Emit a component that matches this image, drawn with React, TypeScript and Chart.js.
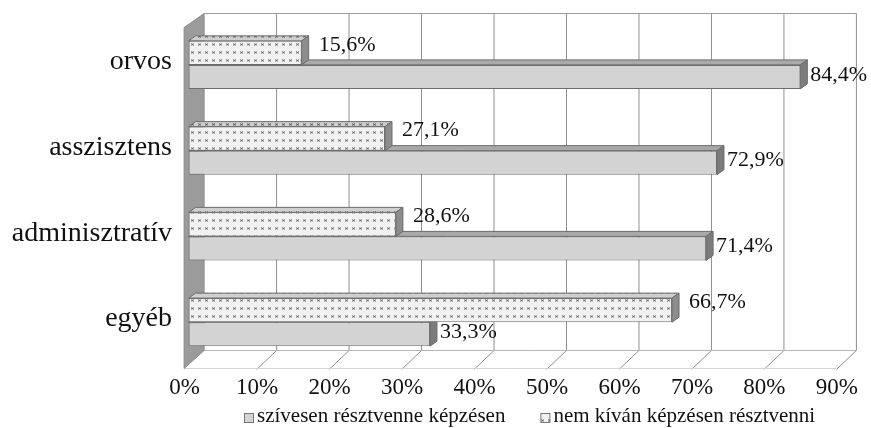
import React, { useEffect, useRef } from "react";
import { Chart, registerables } from "chart.js";

Chart.register(...registerables);

// Survey: willingness to take part in training, by staff group
const categories = ["orvos", "asszisztens", "adminisztratív", "egyéb"];
const willingLabel = "szívesen résztvenne képzésen";
const unwillingLabel = "nem kíván képzésen résztvenni";
const willingValues = [84.4, 72.9, 71.4, 33.3];
const unwillingValues = [15.6, 27.1, 28.6, 66.7];
const xTickValues = [0, 10, 20, 30, 40, 50, 60, 70, 80, 90];

const SERIF = "'Liberation Serif', 'Times New Roman', serif";
const W = 871;
const H = 428;

// 3D look: bar depth and wall offsets relative to the bar plane
const BAR_DX = 7;
const BAR_DY = -5;
const BACK = { dx: 15, top: -9, bottom: -15 };
const FRONT = { dx: -5, top: 5, bottom: 3 };

const SOLID_FILL = "#d3d3d3";
const SOLID_TOP = "#a9a9a9";
const SOLID_SIDE = "#7c7c7c";
const EDGE = "#6c6c6c";

function makeDotPattern(): CanvasPattern | string {
  const c = document.createElement("canvas");
  c.width = 7;
  c.height = 8;
  const g = c.getContext("2d");
  if (!g) return "#eeeeee";
  g.fillStyle = "#f1f1f1";
  g.fillRect(0, 0, 7, 8);
  g.fillStyle = "#a8a8a8";
  g.fillRect(2, 3, 3, 3);
  g.fillStyle = "#d6d6d6";
  g.fillRect(3, 3, 1, 1);
  g.fillRect(3, 5, 1, 1);
  g.fillStyle = "#6a6a6a";
  g.fillRect(3, 4, 1, 1);
  return g.createPattern(c, "repeat") || "#eeeeee";
}

const fmt = (v: number) => v.toFixed(1).replace(".", ",") + "%";

function poly(ctx: CanvasRenderingContext2D, pts: number[][], fill: any, stroke?: string) {
  ctx.beginPath();
  ctx.moveTo(pts[0][0], pts[0][1]);
  for (let i = 1; i < pts.length; i++) ctx.lineTo(pts[i][0], pts[i][1]);
  ctx.closePath();
  if (fill) {
    ctx.fillStyle = fill;
    ctx.fill();
  }
  if (stroke) {
    ctx.strokeStyle = stroke;
    ctx.lineWidth = 1;
    ctx.stroke();
  }
}

// Back wall, floor, side wall and gridlines
const wallsPlugin = {
  id: "walls3d",
  beforeDatasetsDraw(chart: any) {
    const { ctx, chartArea: ca } = chart;
    const xs = chart.scales.x;
    const bx = (v: number) => xs.getPixelForValue(v) + BACK.dx;
    const fx = (v: number) => xs.getPixelForValue(v) + FRONT.dx;
    const bTop = ca.top + BACK.top;
    const bBot = ca.bottom + BACK.bottom;
    const fTop = ca.top + FRONT.top;
    const fBot = ca.bottom + FRONT.bottom;
    const vMin = xTickValues[0];
    const vMax = xTickValues[xTickValues.length - 1];
    ctx.save();
    ctx.translate(0.5, 0.5);
    // back wall
    poly(ctx, [[bx(vMin), bTop], [bx(vMax), bTop], [bx(vMax), bBot], [bx(vMin), bBot]], "#ffffff");
    // floor
    poly(ctx, [[fx(vMin), fBot], [fx(vMax), fBot], [bx(vMax), bBot], [bx(vMin), bBot]], "#ffffff");
    // gridlines on wall and floor
    ctx.lineWidth = 1;
    for (const v of xTickValues) {
      if (v === vMin) continue;
      ctx.strokeStyle = "#8f8f8f";
      ctx.beginPath();
      ctx.moveTo(bx(v), bTop);
      ctx.lineTo(bx(v), bBot);
      ctx.lineTo(fx(v), fBot + 1);
      ctx.stroke();
    }
    // wall outlines
    ctx.strokeStyle = "#9a9a9a";
    ctx.beginPath();
    ctx.moveTo(bx(vMin), bTop);
    ctx.lineTo(bx(vMax), bTop);
    ctx.stroke();
    ctx.strokeStyle = "#b5b5b5";
    ctx.beginPath();
    ctx.moveTo(bx(vMin), bBot);
    ctx.lineTo(bx(vMax), bBot);
    ctx.stroke();
    ctx.strokeStyle = "#d6d6d6";
    ctx.beginPath();
    ctx.moveTo(fx(vMin), fBot);
    ctx.lineTo(fx(vMax), fBot);
    ctx.stroke();
    // side wall
    poly(ctx, [[fx(vMin), fTop], [bx(vMin), bTop], [bx(vMin), bBot], [fx(vMin), fBot]], "#9b9b9b", "#8a8a8a");
    ctx.restore();
  },
};

// Top and side faces of each bar, drawn just before the bar's front face
const barDepthPlugin = {
  id: "barDepth",
  beforeDatasetDraw(chart: any, args: any) {
    const { ctx } = chart;
    const ds = chart.data.datasets[args.index];
    const isSolid = ds.label === willingLabel;
    ctx.save();
    for (const el of args.meta.data) {
      const { x, y, base, height } = el.getProps(["x", "y", "base", "height"], true);
      const t = y - height / 2;
      const b = y + height / 2;
      const top = [[base, t], [base + BAR_DX, t + BAR_DY], [x + BAR_DX, t + BAR_DY], [x, t]];
      const side = [[x, t], [x + BAR_DX, t + BAR_DY], [x + BAR_DX, b + BAR_DY], [x, b]];
      if (isSolid) {
        poly(ctx, top, SOLID_TOP, EDGE);
        poly(ctx, side, SOLID_SIDE, EDGE);
      } else {
        poly(ctx, top, ds.backgroundColor, undefined);
        poly(ctx, top, "rgba(0,0,0,0.14)", EDGE);
        poly(ctx, side, "#8d8d8d", EDGE);
      }
    }
    ctx.restore();
  },
};

// Value labels beside the bar ends, and the legend under the axis
const labelsPlugin = {
  id: "valueLabels",
  afterDatasetsDraw(chart: any) {
    const { ctx } = chart;
    ctx.save();
    ctx.font = `22px ${SERIF}`;
    ctx.fillStyle = "#111";
    ctx.textAlign = "left";
    ctx.textBaseline = "middle";
    chart.data.datasets.forEach((ds: any, di: number) => {
      const meta = chart.getDatasetMeta(di);
      const isSolid = ds.label === willingLabel;
      meta.data.forEach((el: any, i: number) => {
        const { x, y } = el.getProps(["x", "y"], true);
        ctx.fillText(fmt(ds.data[i]), x + (isSolid ? 10 : 17), y + (isSolid ? -2 : -8));
      });
    });
    ctx.restore();
  },
  afterDraw(chart: any) {
    const { ctx } = chart;
    const order = [...chart.data.datasets].reverse();
    ctx.save();
    ctx.font = `21px ${SERIF}`;
    ctx.textBaseline = "middle";
    ctx.textAlign = "left";
    let x = 244;
    for (const ds of order) {
      ctx.fillStyle = ds.backgroundColor;
      ctx.fillRect(x, 413, 10, 10);
      ctx.strokeStyle = "#777";
      ctx.lineWidth = 1;
      ctx.strokeRect(x + 0.5, 413.5, 9, 9);
      ctx.fillStyle = "#111";
      ctx.fillText(ds.label, x + 13, 416);
      x += 13 + ctx.measureText(ds.label).width + 35;
    }
    ctx.restore();
  },
};

export default function App() {
  const ref = useRef<HTMLCanvasElement | null>(null);

  useEffect(() => {
    document.body.style.margin = "0";
    const canvas = ref.current;
    if (!canvas) return;
    const dots = makeDotPattern();
    const chart = new Chart(canvas, {
      type: "bar",
      data: {
        labels: categories,
        datasets: [
          {
            label: unwillingLabel,
            data: unwillingValues,
            backgroundColor: dots as any,
            borderColor: EDGE,
            borderWidth: 1,
            borderSkipped: false,
            categoryPercentage: 0.56,
            barPercentage: 1,
            clip: false as any,
          },
          {
            label: willingLabel,
            data: willingValues,
            backgroundColor: SOLID_FILL,
            borderColor: EDGE,
            borderWidth: 1,
            borderSkipped: false,
            categoryPercentage: 0.56,
            barPercentage: 1,
            clip: false as any,
          },
        ],
      },
      options: {
        indexAxis: "y",
        animation: false,
        responsive: false,
        devicePixelRatio: 1,
        layout: { padding: { top: 22, right: 27.2, left: 0, bottom: 0 } },
        plugins: {
          legend: { display: false },
          tooltip: { enabled: false },
        },
        scales: {
          x: {
            type: "linear",
            min: xTickValues[0],
            max: xTickValues[xTickValues.length - 1],
            afterBuildTicks: (scale: any) => {
              scale.ticks = xTickValues.map((v) => ({ value: v }));
            },
            grid: { display: false, drawTicks: false },
            border: { display: false },
            ticks: {
              callback: (v: any) => v + "%",
              font: { family: SERIF, size: 23 },
              color: "#111",
              padding: 9,
              labelOffset: -4,
              maxRotation: 0,
              autoSkip: false,
            },
            afterFit: (scale: any) => {
              scale.height = 63;
            },
          },
          y: {
            type: "category",
            grid: { display: false, drawTicks: false },
            border: { display: false },
            ticks: {
              font: { family: SERIF, size: 28 },
              color: "#111",
              padding: 16.6,
              labelOffset: -3,
              autoSkip: false,
            },
            afterFit: (scale: any) => {
              scale.width = 188.6;
              scale.paddingTop = 0;
              scale.paddingBottom = 0;
            },
          },
        },
      },
      plugins: [wallsPlugin, barDepthPlugin, labelsPlugin],
    });
    return () => chart.destroy();
  }, []);

  return (
    <div style={{ width: W, height: H, background: "#fff" }}>
      <canvas ref={ref} width={W} height={H} style={{ display: "block" }} />
    </div>
  );
}
